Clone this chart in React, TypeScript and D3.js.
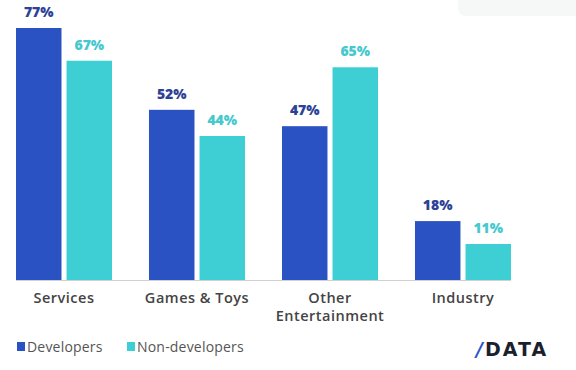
import { useEffect, useRef } from 'react'
import * as d3 from 'd3'

const categories = ['Services', 'Games & Toys', 'Other Entertainment', 'Industry']
const developers = [77, 52, 47, 18]
const nonDevelopers = [67, 44, 65, 11]
const seriesNames = ['Developers', 'Non-developers']
const seriesColors = ['#2b52c2', '#3dcfd4']
const labelColors = ['#2c4296', '#45c9cd']

const width = 576
const height = 370

export default function App() {
    const svgRef = useRef<SVGSVGElement>(null)

    useEffect(() => {
        if (!svgRef.current) return
        const svg = d3.select(svgRef.current)
        svg.selectAll('*').remove()

        const font = "'Open Sans', 'Noto Sans', sans-serif"
        const baseline = 280

        // faint card shadow top right
        svg.append('rect')
            .attr('x', 458).attr('y', -12)
            .attr('width', 140).attr('height', 28)
            .attr('rx', 8)
            .attr('fill', '#f6f7f7')

        const x0 = d3.scaleBand<string>()
            .domain(categories)
            .range([16, 511])
            .paddingInner(0.278)

        const x1 = d3.scaleBand<number>()
            .domain([0, 1])
            .range([0, x0.bandwidth()])
            .paddingInner(0.1)

        const y = d3.scaleLinear()
            .domain([0, 77])
            .range([baseline, 28])

        const rows = categories.map((c, i) => ({ cat: c, vals: [developers[i], nonDevelopers[i]] }))

        const groups = svg.selectAll('.grp')
            .data(rows)
            .enter()
            .append('g')
            .attr('transform', d => `translate(${x0(d.cat)},0)`)

        groups.selectAll('rect')
            .data(d => d.vals.map((v, s) => ({ v, s })))
            .enter()
            .append('rect')
            .attr('x', d => x1(d.s)!)
            .attr('y', d => y(d.v))
            .attr('width', x1.bandwidth())
            .attr('height', d => baseline - y(d.v))
            .attr('fill', d => seriesColors[d.s])

        groups.selectAll('.val')
            .data(d => d.vals.map((v, s) => ({ v, s })))
            .enter()
            .append('text')
            .attr('x', d => x1(d.s)! + x1.bandwidth() / 2)
            .attr('y', d => y(d.v) - 11)
            .attr('text-anchor', 'middle')
            .style('font-family', font)
            .style('font-weight', '800')
            .style('font-size', '14px')
            .attr('fill', d => labelColors[d.s])
            .text(d => `${d.v}%`)

        // baseline
        svg.append('line')
            .attr('x1', 16).attr('x2', 511)
            .attr('y1', baseline + 0.5).attr('y2', baseline + 0.5)
            .attr('stroke', '#d0d0d0')

        // category labels
        groups.append('text')
            .attr('x', x0.bandwidth() / 2)
            .attr('text-anchor', 'middle')
            .style('font-family', font)
            .style('font-size', '14.5px')
            .style('font-weight', '600')
            .style('letter-spacing', '0.5px')
            .attr('fill', '#444')
            .each(function (d) {
                const words = d.cat === 'Other Entertainment' ? ['Other', 'Entertainment'] : [d.cat]
                words.forEach((w, i) => {
                    d3.select(this).append('tspan')
                        .attr('x', x0.bandwidth() / 2)
                        .attr('y', 303 + i * 18)
                        .text(w)
                })
            })

        // legend
        const legendX = [17, 127]
        const legend = svg.selectAll('.leg')
            .data(seriesNames)
            .enter()
            .append('g')
            .attr('transform', (d, i) => `translate(${legendX[i]},342)`)

        legend.append('rect')
            .attr('width', 8).attr('height', 9)
            .attr('fill', (d, i) => seriesColors[i])

        legend.append('text')
            .attr('x', 10).attr('y', 10)
            .style('font-family', font)
            .style('font-size', '14px')
            .style('letter-spacing', '0.2px')
            .attr('fill', '#555')
            .text(d => d)

        // logo
        const logo = svg.append('text')
            .attr('x', 476).attr('y', 356)
            .style('font-family', "'DejaVu Sans', sans-serif")
            .style('font-weight', 'bold')
            .style('font-size', '19px')
            .style('letter-spacing', '2px')
        logo.append('tspan').attr('fill', '#2d54c8').style('font-style', 'italic').text('/')
        logo.append('tspan').attr('fill', '#1c1f2e').text('DATA')
    }, [])

    return (
        <svg ref={svgRef} width={width} height={height}
            style={{ position: 'absolute', left: 0, top: 0, background: '#fff' }} />
    )
}
